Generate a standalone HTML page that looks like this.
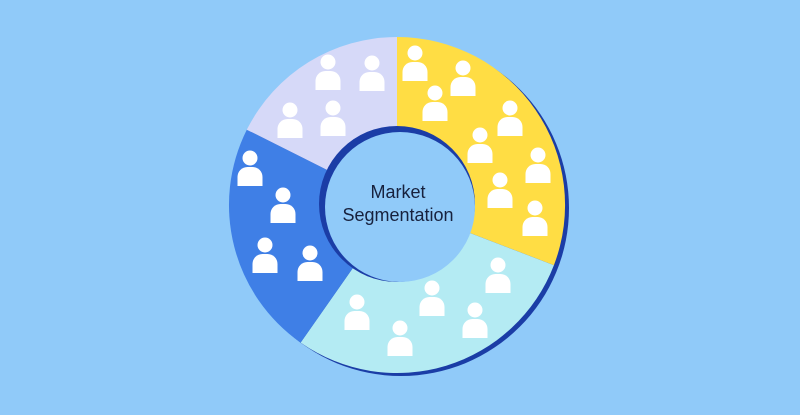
<!DOCTYPE html>
<html><head><meta charset="utf-8"><style>
html,body{margin:0;padding:0;background:#90CAF9;}
svg{display:block}
</style></head><body>
<svg width="800" height="415" viewBox="0 0 800 415" xmlns="http://www.w3.org/2000/svg">
<defs>
<g id="p"><circle cx="0" cy="0" r="7.5" fill="#fff"/><path d="M-12.5 28 V19 A10 10 0 0 1 -2.5 9 H2.5 A10 10 0 0 1 12.5 19 V28 Z" fill="#fff"/></g>
</defs>
<rect width="800" height="415" fill="#90CAF9"/>
<circle cx="401" cy="208" r="168" fill="#1B3DA6"/>
<path d="M397 205 L397 37 A168 168 0 0 1 553.9 265.2 Z" fill="#FFDD44"/>
<path d="M397 205 L553.9 265.2 A168 168 0 0 1 300.6 342.6 Z" fill="#B4EBF3"/>
<path d="M397 205 L300.6 342.6 A168 168 0 0 1 246.8 129.7 Z" fill="#3F7FE6"/>
<path d="M397 205 L246.8 129.7 A168 168 0 0 1 397 37 Z" fill="#D6D9F8"/>
<circle cx="397" cy="204" r="78" fill="#1B3DA6"/>
<circle cx="400" cy="207" r="75" fill="#90CAF9"/>
<g>
<use href="#p" x="328" y="62"/><use href="#p" x="372" y="63"/><use href="#p" x="290" y="110"/><use href="#p" x="333" y="108"/>
<use href="#p" x="415" y="53"/><use href="#p" x="463" y="68"/><use href="#p" x="435" y="93"/><use href="#p" x="510" y="108"/>
<use href="#p" x="480" y="135"/><use href="#p" x="538" y="155"/><use href="#p" x="500" y="180"/><use href="#p" x="535" y="208"/>
<use href="#p" x="250" y="158"/><use href="#p" x="283" y="195"/><use href="#p" x="265" y="245"/><use href="#p" x="310" y="253"/>
<use href="#p" x="498" y="265"/><use href="#p" x="432" y="288"/><use href="#p" x="357" y="302"/><use href="#p" x="475" y="310"/><use href="#p" x="400" y="328"/>
</g>
<text x="398" y="198" text-anchor="middle" font-family="Liberation Sans, sans-serif" font-size="18" fill="#17213D">Market</text>
<text x="398" y="221" text-anchor="middle" font-family="Liberation Sans, sans-serif" font-size="18" fill="#17213D">Segmentation</text>
</svg>
</body></html>
